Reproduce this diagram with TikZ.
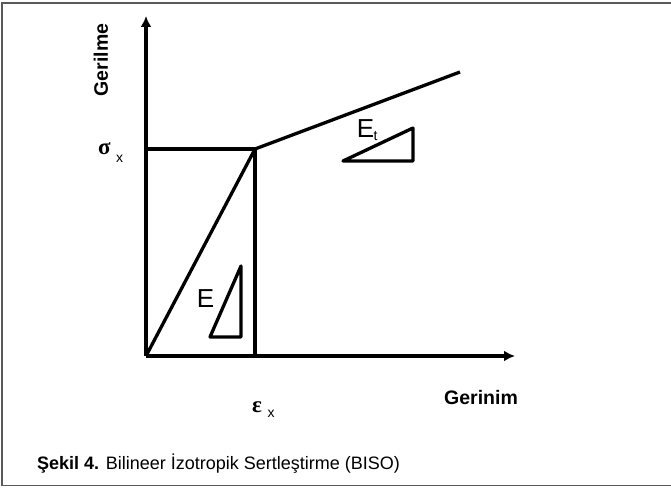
\documentclass[tikz,border=0pt]{standalone}
\usepackage{fontspec}
\setmainfont{Liberation Sans}
\newfontfamily\grfont{Liberation Serif}
\usetikzlibrary{arrows.meta}
\begin{document}
\begin{tikzpicture}[x=1pt,y=-1pt,
  curve/.style={line width=3.3pt, line join=round},
  axis/.style={line width=3.3pt, -{Latex[length=11pt,width=11pt]}},
  lbl/.style={inner sep=0pt, font=\fontsize{26}{30}\selectfont},
  sym/.style={inner sep=0pt, font=\grfont\bfseries\fontsize{23}{26}\selectfont},
  sub/.style={inner sep=0pt, font=\fontsize{14}{16}\selectfont},
  axlbl/.style={inner sep=0pt, font=\bfseries\fontsize{19.5}{22}\selectfont},
  frame/.style={line width=1.5pt, gray!70!black}]
\useasboundingbox (0,0) rectangle (671,487);
\coordinate (fTR) at (671,3);
\coordinate (fTL) at (2,3);
\coordinate (fBL) at (2,485.5);
\coordinate (fBR) at (671,485.5);
\draw[frame] (fTR) -- (fTL) -- (fBL) -- (fBR);
\coordinate (O) at (146,356);
\coordinate (Ytop) at (146,16);
\coordinate (Xend) at (515,356);
\coordinate (Y) at (255,149);
\coordinate (Sx) at (146,149);
\coordinate (Ex) at (255,356);
\coordinate (H) at (460,72);
\draw[axis] (O) -- (Ytop);
\draw[axis] (O) -- (Xend);
\draw[curve] (Sx) -- (Y) -- (Ex);
\draw[curve] (O) -- (Y) -- (H);
% tangent triangles
\coordinate (t1) at (343,161);
\coordinate (t2) at (413,128);
\coordinate (t3) at (413,161);
\draw[curve] (t1) -- (t2) -- (t3) -- cycle;
\coordinate (e1) at (210,337);
\coordinate (e2) at (241,266);
\coordinate (e3) at (241,337);
\draw[curve] (e1) -- (e2) -- (e3) -- cycle;
% labels
\node[sym, anchor=base] (sig) at (104.5,154) {σ};
\node[sub, anchor=base] (sigx) at (119.5,162) {x};
\node[sym, anchor=base] (eps) at (257,412) {ε};
\node[sub, anchor=base] (epsx) at (271,417) {x};
\node[lbl, anchor=base] (Elbl) at (205.5,307) {E};
\node[lbl, anchor=base] (Etlbl) at (365.5,137) {E};
\node[sub, anchor=base] (Etsub) at (375.5,140) {t};
\node[axlbl, rotate=90] (ger) at (101,60) {Gerilme};
\node[axlbl] (gern) at (481,398) {Gerinim};
\node[anchor=west, inner sep=0pt, font=\fontsize{18}{21}\selectfont] (cap) at (37,464) {\textbf{Şekil 4.} Bilineer İzotropik Sertleştirme (BISO)};
\end{tikzpicture}
\end{document}
